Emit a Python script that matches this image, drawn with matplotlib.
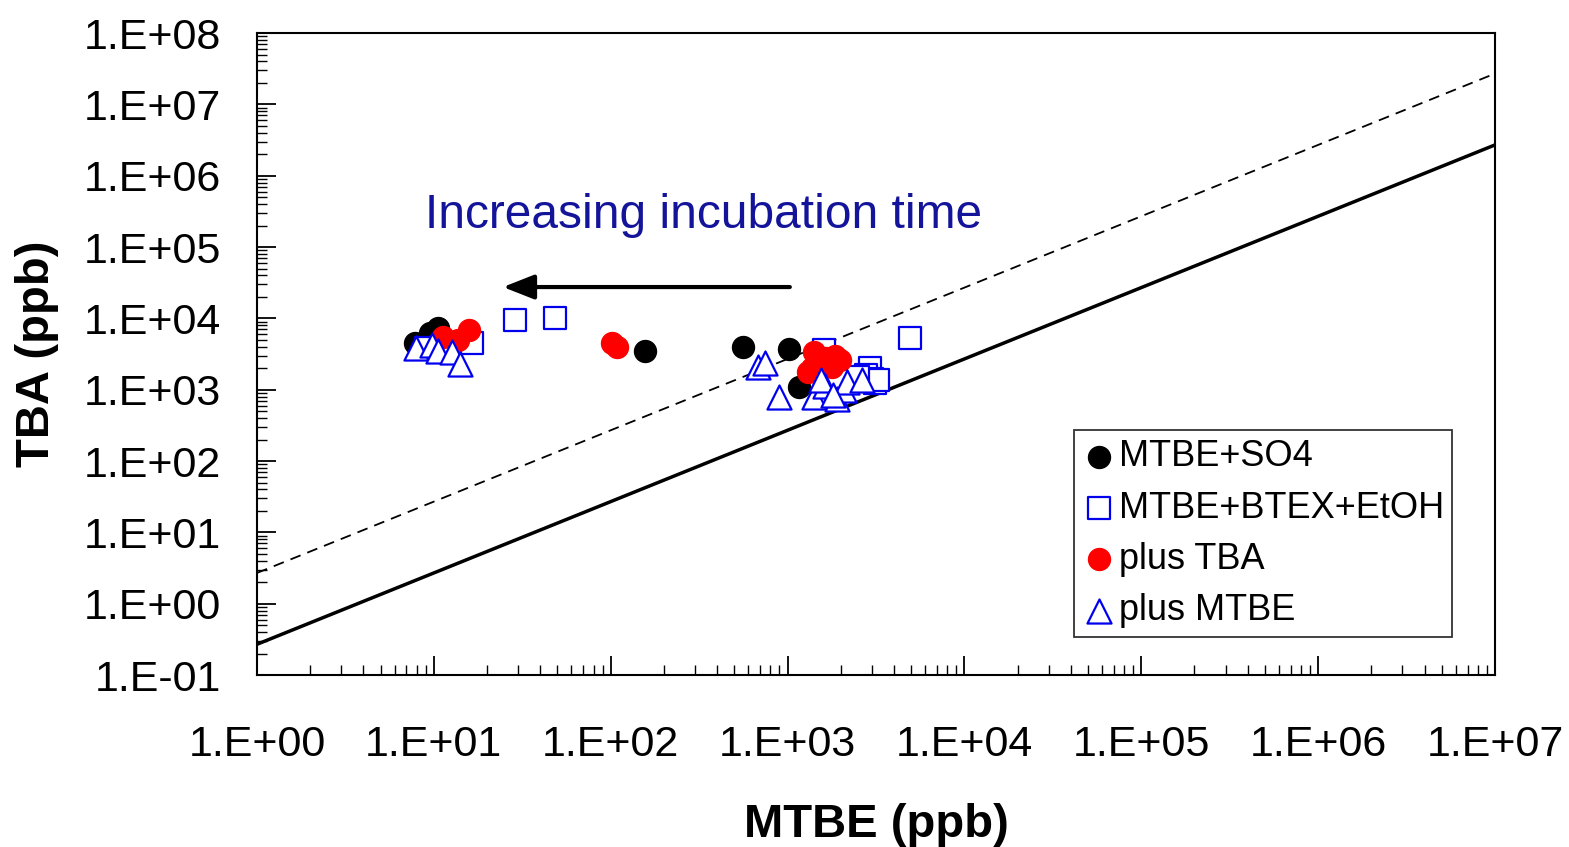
import matplotlib
matplotlib.use("Agg")
import matplotlib.pyplot as plt
import numpy as np

plt.rcParams['font.family'] = ['Liberation Sans', 'DejaVu Sans']

# MTBE+SO4 (black circles)
so4_x = [7.8, 9.5, 10.5, 156, 559, 1017, 1160]
so4_y = [4500, 6200, 7300, 3480, 3980, 3720, 1090]

# MTBE+BTEX+EtOH (blue open squares)
btex_x = [16.4, 28.7, 48.4, 4910, 1600, 2920, 2770, 3000, 3140, 3250, 2500, 9.0]
btex_y = [4500, 9460, 10100, 5300, 3630, 2000, 1600, 1400, 1250, 1350, 1500, 3800]

# plus TBA (red circles)
tba_x = [11.3, 13.7, 15.8, 101.6, 108, 1410, 1380, 1300, 1650, 1850, 1990, 1790]
tba_y = [5470, 4950, 6850, 4500, 3960, 3370, 2000, 1760, 2760, 2950, 2580, 2100]

# plus MTBE (blue open triangles)
mtbe_x = [7.9, 9.7, 10.5, 12.6, 14.0, 679, 748, 890, 1410, 1630, 1910, 2080, 2170, 2650, 1550, 1800]
mtbe_y = [3840, 4200, 3480, 3380, 2290, 2080, 2400, 790, 780, 1120, 730, 1000, 1280, 1390, 1390, 850]

line_x = [1, 1e7]
solid_ratio = 0.27
dashed_ratio = 2.7

fig = plt.figure(figsize=(15.69, 8.47), dpi=100)
ax = fig.add_axes([0.1638, 0.203, 0.7890, 0.758])
ax.set_xscale('log')
ax.set_yscale('log')
ax.set_xlim(1, 1e7)
ax.set_ylim(0.1, 1e8)

lx = np.array(line_x)
ax.plot(lx, lx * solid_ratio, color='black', lw=2.5, zorder=2)
ax.plot(lx, lx * dashed_ratio, color='black', lw=1.3, dashes=(6, 4), zorder=2)

ax.scatter(so4_x, so4_y, s=250, marker='o', facecolor='black', edgecolor='black', lw=1, zorder=3, label='MTBE+SO4')
ax.scatter(btex_x, btex_y, s=230, marker='s', facecolor='white', edgecolor='#0000ee', lw=1.6, zorder=4, label='MTBE+BTEX+EtOH')
ax.scatter(tba_x, tba_y, s=250, marker='o', facecolor='#ff0000', edgecolor='#ff0000', lw=1, zorder=5, label='plus TBA')
ax.scatter(mtbe_x, mtbe_y, s=300, marker='^', facecolor='white', edgecolor='#0000ee', lw=1.6, zorder=6, label='plus MTBE')

ax.annotate('', xy=(24.6, 27500), xytext=(1030, 27500),
            arrowprops=dict(arrowstyle='-|>,head_length=1.9,head_width=0.75', color='black', lw=3,
                            shrinkA=0, shrinkB=0), zorder=7)
ax.text(333, 2.8e5, 'Increasing incubation time', color='#14149a', fontsize=34.5, ha='center', va='center')

ax.set_xticks([1e0, 1e1, 1e2, 1e3, 1e4, 1e5, 1e6, 1e7])
ax.set_xticklabels(['1.E+00', '1.E+01', '1.E+02', '1.E+03', '1.E+04', '1.E+05', '1.E+06', '1.E+07'])
ax.set_yticks([1e-1, 1e0, 1e1, 1e2, 1e3, 1e4, 1e5, 1e6, 1e7, 1e8])
ax.set_yticklabels(['1.E-01', '1.E+00', '1.E+01', '1.E+02', '1.E+03', '1.E+04', '1.E+05', '1.E+06', '1.E+07', '1.E+08'])
ax.xaxis.set_minor_locator(matplotlib.ticker.LogLocator(base=10, subs=np.arange(2, 10), numticks=20))
ax.yaxis.set_minor_locator(matplotlib.ticker.LogLocator(base=10, subs=np.arange(2, 10), numticks=20))
ax.xaxis.set_minor_formatter(matplotlib.ticker.NullFormatter())
ax.yaxis.set_minor_formatter(matplotlib.ticker.NullFormatter())
ax.tick_params(which='major', direction='in', length=14, width=1.3, labelsize=31, pad=26)
ax.tick_params(which='minor', direction='in', length=7, width=1.0)
ax.tick_params(axis='x', which='major', pad=36)
for sp in ax.spines.values():
    sp.set_linewidth(1.5)

ax.set_xlabel('MTBE (ppb)', fontsize=34, fontweight='bold', labelpad=27)
ax.set_ylabel('TBA (ppb)', fontsize=34, fontweight='bold', labelpad=18)

leg = ax.legend(loc='lower left', bbox_to_anchor=(0.66, 0.059, 0.305, 0.318), mode='expand',
                fontsize=26, frameon=True, fancybox=False, edgecolor='black',
                handletextpad=0.1, handlelength=0.9, borderaxespad=0, labelspacing=0.45,
                borderpad=0.25)
leg.get_frame().set_linewidth(1.3)

fig.savefig('out.png', dpi=100)
